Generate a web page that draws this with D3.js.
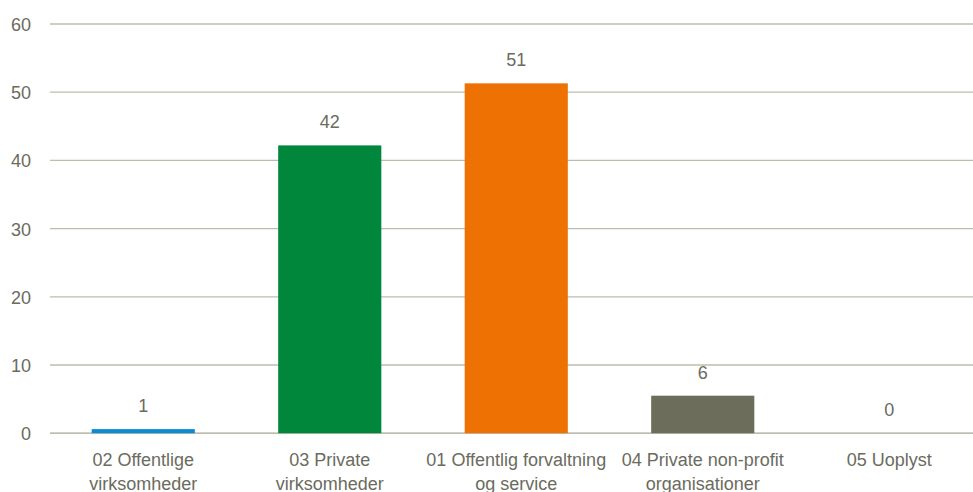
<!DOCTYPE html>
<html lang="da">
<head>
<meta charset="UTF-8">
<script src="https://d3js.org/d3.v7.min.js"></script>
<style>
  body { margin: 0; background: #fff; }
  text { font-family: "Liberation Sans", Arial, sans-serif; fill: #6b6b5e; }
</style>
</head>
<body>
<svg id="chart" width="973" height="492"></svg>
<script>
// data
const categories = ["02 Offentlige virksomheder", "03 Private virksomheder", "01 Offentlig forvaltning og service", "04 Private non-profit organisationer", "05 Uoplyst"];
const categoryLines = [["02 Offentlige", "virksomheder"], ["03 Private", "virksomheder"], ["01 Offentlig forvaltning", "og service"], ["04 Private non-profit", "organisationer"], ["05 Uoplyst"]];
const values = [0.6, 42.2, 51.3, 5.5, 0];
const valueLabels = ["1", "42", "51", "6", "0"];
const barColors = ["#0a8bd3", "#00873c", "#ee7203", "#6d6d5c"];
const yTicks = [0, 10, 20, 30, 40, 50, 60];

const svg = d3.select("#chart");

const x = d3.scaleBand()
  .domain(categories)
  .range([50, 982.5])
  .paddingInner(0.447)
  .paddingOuter(0.2235);

const y = d3.scaleLinear()
  .domain([0, 60])
  .range([433.2, 24]);

// gridlines
svg.append("g")
  .selectAll("line")
  .data(yTicks)
  .join("line")
  .attr("x1", 50)
  .attr("x2", 982.5)
  .attr("y1", d => y(d))
  .attr("y2", d => y(d))
  .attr("stroke", d => d === 0 ? "#a6a696" : "#bdbdab")
  .attr("stroke-width", 1.3);

// y tick labels
svg.append("g")
  .selectAll("text")
  .data(yTicks)
  .join("text")
  .attr("x", 31)
  .attr("y", d => y(d) + 7)
  .attr("text-anchor", "end")
  .attr("font-size", 18)
  .text(d => d);

// bars
svg.append("g")
  .selectAll("rect")
  .data(values)
  .join("rect")
  .attr("x", (d, i) => x(categories[i]))
  .attr("width", x.bandwidth())
  .attr("y", d => y(d))
  .attr("height", d => y(0) - y(d))
  .attr("fill", (d, i) => barColors[i % barColors.length]);

// value labels
svg.append("g")
  .selectAll("text")
  .data(values)
  .join("text")
  .attr("x", (d, i) => x(categories[i]) + x.bandwidth() / 2)
  .attr("y", d => y(d) - 17)
  .attr("text-anchor", "middle")
  .attr("font-size", 18)
  .text((d, i) => valueLabels[i]);

// category labels
const cat = svg.append("g")
  .selectAll("text")
  .data(categoryLines)
  .join("text")
  .attr("text-anchor", "middle")
  .attr("font-size", 18)
  .attr("transform", (d, i) => `translate(${x(categories[i]) + x.bandwidth() / 2},466)`);

cat.selectAll("tspan")
  .data(d => d)
  .join("tspan")
  .attr("x", 0)
  .attr("y", (d, j) => j * 24)
  .text(d => d);
</script>
</body>
</html>
